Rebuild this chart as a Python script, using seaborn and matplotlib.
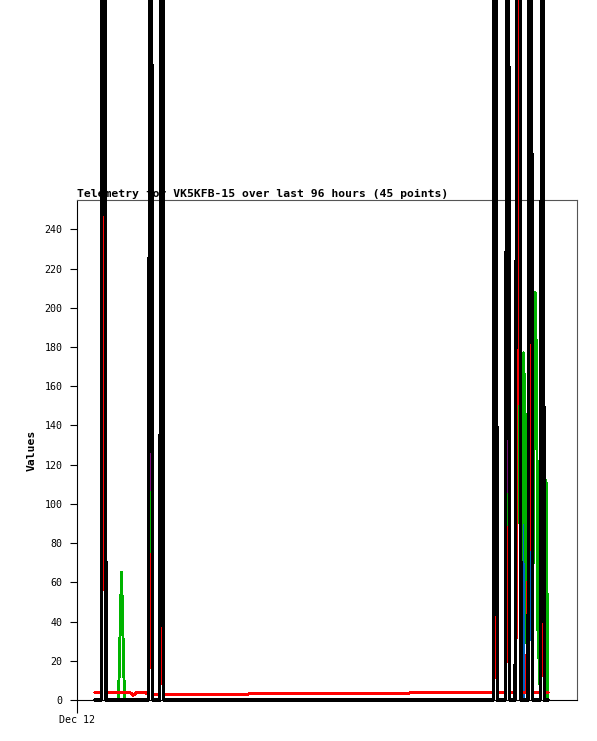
import numpy as np
import pandas as pd
import seaborn as sns
import matplotlib
matplotlib.use('Agg')
import matplotlib.pyplot as plt

# hours since Dec 12 00:00 for each of the 45 telemetry packets
hours = [3.46, 4.70, 4.99, 5.28, 5.57, 7.97, 8.54, 9.12, 10.18, 10.75,
         11.52, 13.75, 14.13, 14.52, 15.90, 16.28, 16.67, 32.64, 33.22, 63.55,
         64.32, 79.91, 80.29, 80.68, 82.29, 82.68, 83.06, 84.10, 84.38, 84.96,
         85.25, 85.73, 86.02, 86.30, 86.59, 87.07, 87.46, 87.94, 88.22, 88.51,
         89.01, 89.36, 89.70, 90.05, 90.43]

# five analog channels
black = [0, 0, 900, 900, 0, 0, 0, 0, 0, 0,
         0, 0, 900, 0, 0, 900, 0, 0, 0, 0,
         0, 0, 900, 0, 0, 900, 0, 0, 300, 900,
         0, 0, 0, 0, 0, 900, 0, 0, 0, 0,
         0, 900, 0, 0, 0]
red = [4.0, 4.0, 300, 85, 4.0, 4.0, 4.0, 4.0, 3.8, 2.5,
       3.8, 3.5, 74, 2.8, 2.8, 70, 2.8, 2.8, 3.3, 3.3,
       4.0, 4.0, 89, 4.0, 4.0, 88, 4.0, 4.0, 46, 700,
       4.0, 4.0, 4.0, 4.0, 55, 310, 4.0, 4.0, 4.0, 4.0,
       4.0, 104, 4.0, 4.0, 4.0]
green = [0, 0, 320, 105, 0, 0, 65, 0, 0, 0,
         0, 0, 106, 0, 0, 108, 0, 0, 0, 0,
         0, 0, 105, 0, 0, 105, 0, 0, 52, 260,
         30, 177, 147, 29, 29, 318, 34, 208, 173, 34,
         0, 110, 0, 112, 0]
blue = [0, 0, 250, 167, 0, 0, 0, 0, 0, 0,
        0, 0, 167, 0, 0, 167, 0, 0, 0, 0,
        0, 0, 167, 0, 0, 167, 0, 0, 84, 700,
        0, 0, 100, 76, 0, 100, 0, 0, 0, 0,
        0, 167, 0, 0, 0]
purple = [0, 0, 400, 130, 0, 0, 0, 0, 0, 0,
          0, 0, 390, 0, 0, 395, 0, 0, 0, 0,
          0, 0, 390, 0, 0, 390, 0, 0, 63, 265,
          0, 0, 0, 0, 0, 395, 0, 0, 0, 0,
          0, 390, 0, 0, 0]

sns.set_style('white')
plt.rcParams['font.family'] = ['DejaVu Sans Mono', 'DejaVu Sans']
plt.rcParams['text.color'] = 'black'
plt.rcParams['axes.labelcolor'] = 'black'
plt.rcParams['xtick.color'] = 'black'
plt.rcParams['ytick.color'] = 'black'

fig = plt.figure(figsize=(5.97, 7.41), dpi=100)
ax = fig.add_axes([77 / 597, 41 / 741, 500 / 597, 500 / 741])

# drawing order matters: black goes on top
channels = [
    (blue, '#0062c4', 1.3),
    (purple, '#7c0a7c', 1.3),
    (green, '#00b400', 1.4),
    (red, '#ff0000', 1.5),
    (black, '#000000', 1.6),
]
for i, (vals, col, lw) in enumerate(channels):
    df = pd.DataFrame({'hours': hours, 'value': vals})
    sns.lineplot(data=df, x='hours', y='value', color=col, linewidth=lw,
                 estimator=None, sort=False, ax=ax)
    ln = ax.lines[-1]
    ln.set_clip_on(False)
    ln.set_antialiased(False)
    ln.set_zorder(4 + i * 0.1)

ax.set_xlim(0, 96)
ax.set_ylim(0, 255)
ax.set_yticks(np.arange(0, 241, 20))
ax.set_xticks([0])
ax.set_xticklabels(['Dec 12'])
ax.tick_params(axis='y', length=5, width=0.8, pad=5.5, labelsize=7.2,
               left=True)
ax.tick_params(axis='x', length=9, width=0.8, pad=1.5, labelsize=7.2,
               bottom=True)

for side in ['top', 'right']:
    ax.spines[side].set_color('#555555')
    ax.spines[side].set_linewidth(0.8)
for side in ['left', 'bottom']:
    ax.spines[side].set_color('black')
    ax.spines[side].set_linewidth(0.8)

ax.set_xlabel('')
ax.set_ylabel('Values', fontsize=8.2, fontweight='bold')
ax.yaxis.set_label_coords(-0.08, 0.5)
ax.set_title('Telemetry for VK5KFB-15 over last 96 hours (45 points)',
             loc='left', fontsize=8.2, fontweight='bold', pad=2)

plt.savefig('out.png', dpi=100)
